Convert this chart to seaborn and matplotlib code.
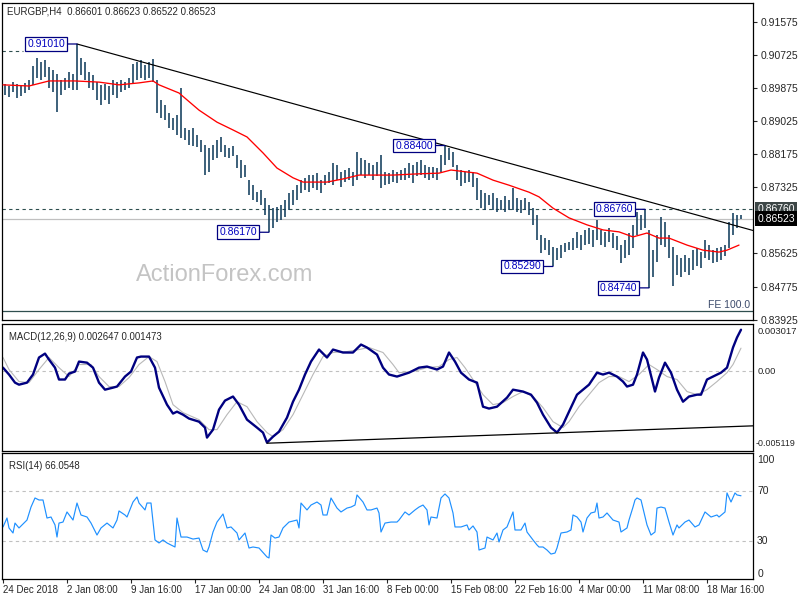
import numpy as np
import matplotlib
matplotlib.use("Agg")
import matplotlib.pyplot as plt
import seaborn as sns

# ---- price bars (every second H4 bar), highs / lows ----
bar_high = [0.8998, 0.8993, 0.9003, 0.8998, 0.8996, 0.9001, 0.9008, 0.9044, 0.9065, 0.9055,
            0.9060, 0.9042, 0.9034, 0.9024, 0.9008, 0.9014, 0.9029, 0.9024, 0.9101, 0.9065,
            0.9055, 0.9029, 0.9021, 0.9003, 0.8996, 0.8998, 0.8993, 0.9008, 0.9003, 0.9008,
            0.9003, 0.9014, 0.9050, 0.9055, 0.9060, 0.9047, 0.9055, 0.9062, 0.9008, 0.8957,
            0.8944, 0.8924, 0.8911, 0.8918, 0.8988, 0.8885, 0.8880, 0.8885, 0.8867, 0.8854,
            0.8841, 0.8834, 0.8841, 0.8854, 0.8862, 0.8841, 0.8834, 0.8839, 0.8816, 0.8803,
            0.8790, 0.8751, 0.8738, 0.8720, 0.8726, 0.8705, 0.8687, 0.8679, 0.8682, 0.8687,
            0.8700, 0.8718, 0.8726, 0.8738, 0.8751, 0.8757, 0.8764, 0.8764, 0.8769, 0.8751,
            0.8764, 0.8772, 0.8795, 0.8790, 0.8772, 0.8777, 0.8782, 0.8772, 0.8823, 0.8808,
            0.8803, 0.8795, 0.8790, 0.8798, 0.8816, 0.8772, 0.8769, 0.8777, 0.8772, 0.8777,
            0.8782, 0.8795, 0.8790, 0.8798, 0.8803, 0.8790, 0.8785, 0.8785, 0.8782, 0.8816,
            0.8840, 0.8834, 0.8823, 0.8790, 0.8777, 0.8772, 0.8777, 0.8772, 0.8757, 0.8726,
            0.8718, 0.8713, 0.8718, 0.8705, 0.8700, 0.8710, 0.8700, 0.8731, 0.8705, 0.8700,
            0.8705, 0.8695, 0.8679, 0.8661, 0.8610, 0.8602, 0.8597, 0.8579, 0.8577, 0.8584,
            0.8589, 0.8592, 0.8602, 0.8618, 0.8610, 0.8623, 0.8628, 0.8623, 0.8648, 0.8623,
            0.8618, 0.8628, 0.8615, 0.8607, 0.8584, 0.8597, 0.8615, 0.8636, 0.8669, 0.8661,
            0.8676, 0.8623, 0.8571, 0.8610, 0.8656, 0.8643, 0.8610, 0.8579, 0.8558, 0.8551,
            0.8558, 0.8551, 0.8571, 0.8577, 0.8566, 0.8597, 0.8584, 0.8571, 0.8577, 0.8579,
            0.8584, 0.8643, 0.8666, 0.8661, 0.8662]
bar_low = [0.8970, 0.8965, 0.8978, 0.8962, 0.8967, 0.8975, 0.8983, 0.8996, 0.9014, 0.9008,
           0.9016, 0.8988, 0.8978, 0.8926, 0.8970, 0.8983, 0.8988, 0.8983, 0.8983, 0.9021,
           0.9008, 0.8988, 0.8983, 0.8957, 0.8944, 0.8957, 0.8947, 0.8970, 0.8962, 0.8978,
           0.8983, 0.8988, 0.8998, 0.9008, 0.9014, 0.9008, 0.9014, 0.9003, 0.8924, 0.8911,
           0.8906, 0.8885, 0.8880, 0.8867, 0.8859, 0.8854, 0.8841, 0.8839, 0.8836, 0.8823,
           0.8764, 0.8772, 0.8803, 0.8808, 0.8823, 0.8810, 0.8808, 0.8813, 0.8782, 0.8757,
           0.8759, 0.8713, 0.8700, 0.8695, 0.8687, 0.8661, 0.8617, 0.8628, 0.8643, 0.8648,
           0.8656, 0.8674, 0.8687, 0.8700, 0.8718, 0.8726, 0.8720, 0.8731, 0.8726, 0.8718,
           0.8738, 0.8744, 0.8738, 0.8751, 0.8733, 0.8746, 0.8751, 0.8736, 0.8751, 0.8764,
           0.8757, 0.8764, 0.8751, 0.8762, 0.8731, 0.8738, 0.8741, 0.8746, 0.8744, 0.8751,
           0.8751, 0.8757, 0.8744, 0.8762, 0.8764, 0.8757, 0.8751, 0.8757, 0.8751, 0.8772,
           0.8790, 0.8803, 0.8785, 0.8751, 0.8736, 0.8744, 0.8746, 0.8733, 0.8700, 0.8679,
           0.8674, 0.8687, 0.8674, 0.8669, 0.8674, 0.8669, 0.8674, 0.8674, 0.8669, 0.8666,
           0.8674, 0.8661, 0.8636, 0.8597, 0.8564, 0.8571, 0.8558, 0.8529, 0.8546, 0.8551,
           0.8566, 0.8571, 0.8571, 0.8577, 0.8571, 0.8584, 0.8587, 0.8579, 0.8597, 0.8584,
           0.8579, 0.8592, 0.8577, 0.8571, 0.8538, 0.8551, 0.8558, 0.8577, 0.8610, 0.8623,
           0.8628, 0.8474, 0.8502, 0.8541, 0.8584, 0.8579, 0.8551, 0.8479, 0.8507, 0.8502,
           0.8515, 0.8507, 0.8520, 0.8530, 0.8525, 0.8551, 0.8546, 0.8538, 0.8541, 0.8546,
           0.8556, 0.8577, 0.8610, 0.8628, 0.8652]

# moving average (bar number, price)
ma_points = [(0, 0.8996), (13, 0.8993), (23, 0.9006), (36, 0.9006), (48, 0.9003), (58, 0.8996),
             (68, 0.9001), (75, 0.9006), (78, 0.8996), (88, 0.8975), (98, 0.8931), (107, 0.8900),
             (115, 0.8880), (122, 0.8862), (130, 0.8821), (137, 0.8782), (145, 0.8757),
             (150, 0.8746), (162, 0.8746), (170, 0.8754), (178, 0.8764), (195, 0.8764),
             (207, 0.8767), (218, 0.8769), (224, 0.8777), (232, 0.8772), (237, 0.8769),
             (245, 0.8751), (253, 0.8738), (263, 0.8720), (268, 0.8708), (275, 0.8679),
             (283, 0.8654), (292, 0.8636), (300, 0.8623), (308, 0.8618), (315, 0.8605),
             (322, 0.8615), (328, 0.8602), (333, 0.8602), (342, 0.8584), (350, 0.8571),
             (358, 0.8566), (362, 0.8571), (368, 0.8584)]

macd_bar = [0, 3, 6, 8, 12, 15, 18, 21, 23, 26, 28, 31, 33, 36, 38, 42, 45, 48, 51, 55, 57, 61, 64,
            67, 69, 73, 76, 78, 82, 85, 87, 90, 93, 98, 101, 102, 105, 108, 111, 115, 118, 122,
            127, 130, 132, 135, 138, 142, 145, 148, 151, 154, 158, 162, 165, 170, 175, 179, 182,
            187, 190, 193, 197, 203, 208, 212, 217, 220, 223, 226, 229, 233, 237, 240, 243, 247,
            252, 255, 260, 264, 267, 270, 274, 277, 280, 283, 287, 290, 293, 297, 300, 303, 307,
            310, 312, 315, 317, 320, 322, 326, 328, 331, 334, 337, 340, 343, 347, 349, 352, 355,
            359, 362, 365, 367, 369]
macd_val = [0.00022, -0.00022, -0.00074, -0.00087, -0.00074, -0.00022, 0.00087, 0.00112, 0.00074,
            0.00022, -0.00054, -0.00054, -0.00016, -0.00003, 0.00061, 0.00054, 0.00022, -0.00074,
            -0.00119, -0.00106, -0.00099, -0.00035, -0.00003, 0.00087, 0.00093, 0.00093, 0.00022,
            -0.00106, -0.00215, -0.00272, -0.00260, -0.00279, -0.00304, -0.00324, -0.00362,
            -0.00426, -0.00375, -0.00247, -0.00189, -0.00163, -0.00215, -0.00311, -0.00362,
            -0.00394, -0.00458, -0.00420, -0.00388, -0.00298, -0.00196, -0.00119, -0.00022,
            0.00061, 0.00138, 0.00087, 0.00138, 0.00119, 0.00119, 0.00170, 0.00151, 0.00106,
            0.00022, -0.00022, -0.00035, -0.00010, 0.00022, 0.00029, 0.00010, 0.00029, 0.00119,
            0.00061, -0.00010, -0.00054, -0.00074, -0.00228, -0.00240, -0.00228, -0.00170,
            -0.00119, -0.00131, -0.00151, -0.00202, -0.00279, -0.00362, -0.00394, -0.00343,
            -0.00260, -0.00151, -0.00119, -0.00087, -0.00010, -0.00022, -0.00010, -0.00035,
            -0.00067, -0.00099, -0.00087, -0.00022, 0.00119, 0.00074, -0.00131, -0.00042,
            0.00054, -0.00010, -0.00119, -0.00196, -0.00163, -0.00151, -0.00151, -0.00054,
            -0.00035, -0.00010, 0.00022, 0.00151, 0.00215, 0.00265]

sig_bar = [0, 3, 8, 13, 18, 23, 28, 33, 38, 44, 48, 53, 58, 63, 68, 73, 77, 81, 85, 90, 98, 103,
           107, 112, 117, 122, 127, 132, 135, 140, 145, 150, 155, 160, 165, 172, 178, 183, 190,
           195, 198, 205, 212, 218, 223, 227, 231, 235, 240, 245, 250, 255, 260, 265, 270, 275,
           280, 283, 288, 293, 298, 303, 308, 313, 318, 323, 327, 332, 337, 342, 347, 352, 357,
           362, 365, 369]
sig_val = [0.00087, 0.00010, -0.00067, -0.00074, 0.00010, 0.00087, 0.00022, -0.00035, 0.00042,
           0.00042, -0.00035, -0.00099, -0.00099, -0.00042, 0.00042, 0.00093, 0.00061, -0.00067,
           -0.00215, -0.00266, -0.00311, -0.00375, -0.00375, -0.00279, -0.00196, -0.00228,
           -0.00324, -0.00394, -0.00420, -0.00375, -0.00279, -0.00151, -0.00022, 0.00093,
           0.00119, 0.00125, 0.00138, 0.00151, 0.00119, 0.00042, -0.00010, -0.00003, 0.00022,
           0.00029, 0.00074, 0.00087, 0.00022, -0.00054, -0.00151, -0.00215, -0.00202, -0.00163,
           -0.00131, -0.00163, -0.00234, -0.00324, -0.00362, -0.00324, -0.00228, -0.00151,
           -0.00074, -0.00035, -0.00035, -0.00067, -0.00022, 0.00042, 0.00010, -0.00035,
           -0.00054, -0.00131, -0.00151, -0.00119, -0.00067, -0.00010, 0.00042, 0.00147]

rsi_points = [(0, 41.3), (2, 48.4), (3, 40.5), (5, 36.5), (6, 44.4), (8, 40.5), (11, 45.2),
              (12, 46.8), (14, 57.1), (16, 64.3), (18, 62.7), (20, 62.7), (22, 48.4), (24, 49.2),
              (26, 42.9), (27, 33.3), (28, 44.4), (30, 45.2), (32, 53.2), (35, 46.8), (37, 60.3),
              (39, 50.8), (42, 49.2), (44, 44.4), (47, 34.9), (49, 40.5), (52, 44.4), (55, 40.5),
              (57, 46.8), (58, 54.0), (61, 50.8), (62, 49.2), (65, 61.1), (67, 65.1), (68, 60.3),
              (71, 54.8), (72, 60.3), (74, 60.3), (76, 31.0), (78, 28.6), (80, 31.0), (82, 28.6),
              (86, 25.4), (87, 48.4), (89, 33.3), (92, 33.3), (95, 31.7), (98, 32.5), (100, 23.0),
              (102, 21.4), (103, 25.4), (105, 37.3), (107, 45.2), (110, 51.6), (112, 40.5),
              (114, 41.3), (117, 36.5), (118, 31.0), (121, 36.5), (123, 24.6), (125, 25.4),
              (128, 24.6), (132, 17.5), (133, 16.7), (134, 34.9), (136, 32.5), (138, 33.3),
              (140, 40.5), (143, 45.2), (147, 46.8), (148, 40.5), (149, 60.3), (152, 54.8),
              (154, 58.7), (157, 61.1), (159, 58.7), (160, 50.8), (162, 50.8), (164, 64.3),
              (167, 56.3), (169, 53.2), (172, 56.3), (174, 57.1), (176, 58.7), (177, 66.7),
              (180, 61.1), (182, 54.8), (184, 54.8), (187, 56.3), (188, 52.4), (189, 37.3),
              (191, 44.4), (194, 45.2), (197, 45.2), (198, 46.8), (201, 53.2), (203, 50.8),
              (206, 54.8), (208, 57.1), (210, 58.7), (212, 54.8), (213, 42.9), (214, 49.2),
              (217, 48.4), (219, 64.3), (221, 67.5), (223, 64.3), (225, 52.4), (226, 41.3),
              (229, 41.3), (232, 42.9), (233, 38.9), (235, 42.1), (237, 37.3), (238, 23.0),
              (241, 24.6), (242, 33.3), (245, 31.0), (247, 36.5), (248, 29.4), (250, 38.9),
              (252, 41.3), (255, 53.2), (256, 38.9), (259, 38.9), (261, 44.4), (262, 37.3),
              (265, 31.0), (267, 27.0), (268, 25.4), (270, 25.4), (272, 23.0), (274, 19.8),
              (276, 20.6), (277, 24.6), (279, 36.5), (282, 37.3), (284, 38.9), (285, 50.8),
              (287, 49.2), (289, 45.2), (290, 37.3), (292, 48.4), (294, 52.4), (296, 53.2),
              (297, 60.3), (298, 48.4), (300, 49.2), (302, 52.4), (305, 46.8), (308, 45.2),
              (309, 37.3), (312, 40.5), (313, 46.8), (315, 57.1), (316, 62.7), (317, 64.3),
              (319, 62.7), (322, 42.9), (324, 34.9), (326, 37.3), (327, 56.3), (329, 57.1),
              (331, 56.3), (333, 45.2), (335, 34.9), (337, 42.9), (338, 40.5), (341, 45.2),
              (343, 46.8), (346, 41.3), (348, 42.9), (351, 53.2), (354, 49.2), (357, 50.8),
              (358, 49.2), (361, 53.2), (362, 68.3), (364, 61.1), (366, 68.3), (367, 66.7),
              (369, 66.05)]

# swing labels
swing_bar = [37, 221, 133, 275, 323, 321]
swing_price = [0.91010, 0.88400, 0.86170, 0.85290, 0.84740, 0.86760]

trend_bar = [37, 221]
trend_price = [0.91010, 0.88400]
macd_trend_bar = [132, 274]
macd_trend_val = [-0.00462, -0.00397]

level_price = 0.86760
last_price = 0.86523
upper_level = 0.90838
fe_price = 0.84153

price_ticks = [0.91575, 0.90725, 0.89875, 0.89025, 0.88175, 0.87325, 0.85625, 0.84775, 0.83925]
time_ticks = [0, 32, 64, 96, 128, 160, 192, 224, 256, 288, 320, 352]
time_labels = ["24 Dec 2018", "2 Jan 08:00", "9 Jan 16:00", "17 Jan 00:00", "24 Jan 08:00",
               "31 Jan 16:00", "8 Feb 00:00", "15 Feb 08:00", "22 Feb 16:00", "4 Mar 00:00",
               "11 Mar 08:00", "18 Mar 16:00"]

sns.set_style("white")
plt.rcParams["font.family"] = ["Liberation Sans", "DejaVu Sans"]

BAR_C = "#123d5c"
FS = 7
FS_P = 7.5

fig = plt.figure(figsize=(8, 6), dpi=100)
W, H = 800, 600


def add_panel(top, bottom):
    ax = fig.add_axes([2 / W, 1 - bottom / H, 751 / W, (bottom - top) / H])
    for s in ax.spines.values():
        s.set_color("black")
        s.set_linewidth(0.9)
        s.set_visible(True)
    ax.set_xlim(-0.5, 375)
    return ax


ax = add_panel(3, 320)
ax_m = add_panel(324, 451)
ax_r = add_panel(453, 579)

# ---- main price panel ----
slots = 2 * np.arange(len(bar_high)) + 1
ax.vlines(slots, bar_low, bar_high, color=BAR_C, lw=1.15, zorder=3)
ma_x = [p[0] for p in ma_points]
ma_y = [p[1] for p in ma_points]
sns.lineplot(x=ma_x, y=ma_y, ax=ax, color="#ff0000", lw=0.95, zorder=4)

slope = (trend_price[1] - trend_price[0]) / (trend_bar[1] - trend_bar[0])
ax.plot([trend_bar[0], 375], [trend_price[0], trend_price[0] + slope * (375 - trend_bar[0])],
        color="black", lw=0.85, zorder=5)

ax.axhline(level_price, color="#2f4f4f", lw=0.8, ls=(0, (3, 3)), zorder=2)
ax.axhline(last_price, color="#c0c0c0", lw=0.9, zorder=1)
ax.hlines(upper_level, -0.5, 10, color="#2f4f4f", lw=0.8, ls=(0, (3, 3)))
ax.axhline(fe_price, color="#2f4f4f", lw=0.9)
ax.text(0.996, fe_price + 0.0002, "FE 100.0", transform=ax.get_yaxis_transform(),
        ha="right", va="bottom", fontsize=FS_P, color="#3b4a6b")

ax.text(0.297, 0.142, "ActionForex.com", transform=ax.transAxes, fontsize=17,
        color="#c4c4c4", ha="center", va="center", family="Liberation Sans", zorder=0)

for b, p in zip(swing_bar, swing_price):
    ax.annotate(f"{p:.5f}", xy=(b, p), xytext=(-12, 0), textcoords="offset pixels",
                ha="right", va="center", fontsize=FS_P, color="#0000c0", zorder=6,
                bbox=dict(boxstyle="square,pad=0.18", fc="white", ec="#000080", lw=0.9),
                arrowprops=dict(arrowstyle="-", color="#000080", lw=0.9, shrinkA=0,
                                shrinkB=0, relpos=(1, 0.5)))

ax.set_ylim(0.83914, 0.92064)
ax.set_xticks([])
ax.yaxis.tick_right()
ax.set_yticks(price_ticks)
ax.set_yticklabels([f"{p:.5f}" for p in price_ticks])
ax.tick_params(axis="y", direction="out", length=3, width=0.8, pad=2.5, labelsize=FS_P)

yt = ax.get_yaxis_transform()
ax.text(1.0060, level_price, f"{level_price:.5f}", transform=yt, color="white", fontsize=FS_P,
        va="center", ha="left", bbox=dict(boxstyle="square,pad=0.2", fc="#3c4646", ec="none"))
ax.text(1.0060, last_price, f"{last_price:.5f}", transform=yt, color="white", fontsize=FS_P,
        va="center", ha="left", bbox=dict(boxstyle="square,pad=0.2", fc="black", ec="none"))

fig.text(7 / W, 1 - 11 / H, "EURGBP,H4  0.86601 0.86623 0.86522 0.86523", fontsize=7,
         va="center", ha="left")

# ---- MACD panel ----
ax_m.axhline(0, color="#c0c0c0", lw=0.8, ls=(0, (3, 3)))
sns.lineplot(x=sig_bar, y=sig_val, ax=ax_m, color="#b8b8b8", lw=0.8)
sns.lineplot(x=macd_bar, y=macd_val, ax=ax_m, color="#000080", lw=1.7)
ms = (macd_trend_val[1] - macd_trend_val[0]) / (macd_trend_bar[1] - macd_trend_bar[0])
ax_m.plot([macd_trend_bar[0], 375],
          [macd_trend_val[0], macd_trend_val[0] + ms * (375 - macd_trend_bar[0])],
          color="black", lw=0.9)
ax_m.set_ylim(-0.005119, 0.003017)
ax_m.set_xticks([])
ax_m.set_yticks([])
mt = ax_m.get_yaxis_transform()
ax_m.annotate("0.003017", xy=(1.0055, 0.003017), xycoords=mt, xytext=(0, -3),
              textcoords="offset pixels", va="top", fontsize=6.8, annotation_clip=False)
ax_m.text(1.0055, 0.0, "0.00", transform=mt, va="center", fontsize=6.8)
ax_m.annotate("-0.005119", xy=(1.0040, -0.005119), xycoords=mt, xytext=(0, 3),
              textcoords="offset pixels", va="bottom", fontsize=6.4, annotation_clip=False)
ax_m.text(7 / 751, 0.94, "MACD(12,26,9) 0.002647 0.001473", transform=ax_m.transAxes,
          va="top", fontsize=6.9)

# ---- RSI panel ----
ax_r.axhline(70, color="#c0c0c0", lw=0.8, ls=(0, (3, 3)))
ax_r.axhline(30, color="#c0c0c0", lw=0.8, ls=(0, (3, 3)))
sns.lineplot(x=[p[0] for p in rsi_points], y=[p[1] for p in rsi_points], ax=ax_r,
             color="#1e90ff", lw=0.85)
ax_r.set_ylim(0, 100)
ax_r.set_yticks([])
rt = ax_r.get_yaxis_transform()
ax_r.annotate("100", xy=(1.0055, 100), xycoords=rt, xytext=(0, -2),
              textcoords="offset pixels", va="top", fontsize=FS_P, annotation_clip=False)
ax_r.text(1.0055, 70, "70", transform=rt, va="center", fontsize=FS_P)
ax_r.text(1.0055, 30, "30", transform=rt, va="center", fontsize=FS_P)
ax_r.text(1.0055, 0, "0", transform=rt, va="bottom", fontsize=FS_P)
ax_r.text(7 / 751, 0.94, "RSI(14) 66.0548", transform=ax_r.transAxes, va="top", fontsize=6.9)
ax_r.set_xticks(time_ticks)
ax_r.set_xticklabels(time_labels, ha="left")
ax_r.tick_params(axis="x", direction="out", length=3, width=0.8, pad=1.5, labelsize=FS,
                 bottom=True)

for a in (ax, ax_m, ax_r):
    a.set_xlabel("")
    a.set_ylabel("")
    a.set_xlim(-0.5, 375)

fig.savefig("out.png", dpi=100, facecolor="white")
